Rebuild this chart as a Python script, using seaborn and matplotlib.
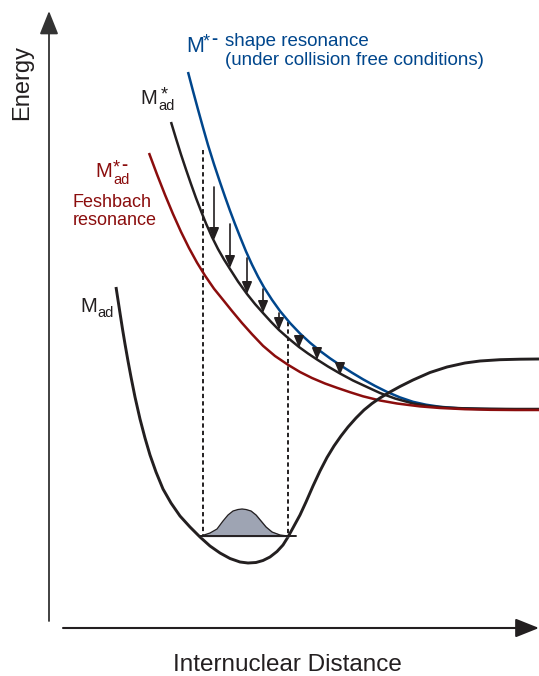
import matplotlib
matplotlib.use("Agg")
import matplotlib.pyplot as plt
import seaborn as sns
import pandas as pd

# -----------------------------
# Potential curves (x = distance, y = energy, image units)
# -----------------------------
shape_x = [188, 193, 198, 203, 208, 214, 220, 225, 230, 235, 240, 246, 252, 258, 264, 272, 280,
           290, 300, 310, 320, 330, 340, 352, 363, 375, 387, 400, 413, 426, 440, 460, 480, 510, 539]
shape_y = [72, 91, 109.5, 127.5, 145, 164.2, 182.2, 196.7, 210.7, 224, 236.7, 251.4, 264.6, 276.6,
           287.4, 299.8, 311, 323, 333.5, 342.7, 350.9, 358.3, 365, 372.7, 379.3, 385.9, 391.9,
           397.4, 401.8, 404.7, 406.8, 408.4, 409, 409.3, 409.3]

excited_x = [171, 176, 181, 186, 191, 196, 201, 206, 212, 218, 224, 230, 238, 247, 255, 263, 271,
             279, 289, 299, 308, 317, 328, 340, 353, 367, 380, 395, 413, 430, 447, 463, 490, 515, 539]
excited_y = [122, 138.5, 154.5, 169.5, 184, 198, 211, 223.5, 237, 249, 259.5, 269, 281.5, 294, 304,
             313, 321.8, 330, 338.8, 347, 353.5, 359.5, 366.5, 373.5, 380.5, 387, 393, 398.5, 403.5,
             406.2, 407.6, 408.3, 408.8, 409, 409]

feshbach_x = [149, 157, 165, 173, 181, 189, 197, 205, 214, 223, 232, 242, 252, 263, 275, 288, 300,
              312, 325, 337, 350, 363, 380, 397, 420, 440, 465, 490, 515, 539]
feshbach_y = [153, 174.4, 194.8, 214, 231.8, 248, 262.6, 275.6, 288.7, 299.8, 311, 323, 334.2,
              345.8, 356, 364.8, 372, 378, 383.5, 387.8, 392.2, 396.3, 400.5, 403.5, 406.4, 408,
              409.2, 409.8, 410, 410]

ground_x = [116, 118, 120, 122.5, 125, 128, 131, 135, 140, 145, 150, 156, 163, 171, 180, 190, 200,
            210, 220, 230, 240, 248, 256, 263, 270, 277, 283, 288, 294, 300, 306, 313, 320, 327,
            334, 341, 348, 356, 364, 372, 380, 390, 400, 413, 430, 447, 465, 480, 500, 520, 539]
ground_y = [287, 300, 313, 329, 344, 361, 377, 397, 419, 438, 455, 472, 489, 503, 516, 527, 537,
            546, 553, 558.5, 562, 563, 562.5, 560.5, 557, 551.5, 545, 537, 526, 515, 502, 486,
            471, 457.5, 446, 436, 427, 418, 410, 403.5, 398, 392, 386.5, 380, 372.5, 367, 363,
            361, 359.7, 359.2, 359]

# vibrational wavefunction on the v=0 level
wave_x = [201, 210, 217, 223, 228, 233, 238, 242, 246, 251, 256, 261, 266, 272, 280, 288]
wave_y = [536, 533, 529, 521, 515, 511, 509.5, 509, 509.5, 511, 515, 521, 527, 532, 535, 536]
level_x = [200, 296]
level_y = 536

# Franck-Condon window (dashed) and decay arrows
window_x = [203, 288]
window_top = [150, 322]
arrow_x = [214, 230, 247, 263, 279, 299, 317, 340]
arrow_top = [187, 224, 258, 289, 313, 336, 351, 366]
arrow_tip = [240, 268, 294, 313, 330, 348, 360, 375]

BLUE = "#00468c"
RED = "#8b0d0d"
INK = "#231f20"

sns.set_theme(style="white")
plt.rcParams["font.family"] = ["Liberation Sans", "DejaVu Sans"]

fig = plt.figure(figsize=(5.39, 6.76), dpi=100)
ax = fig.add_axes([0, 0, 1, 1])
ax.set_xlim(0, 539)
ax.set_ylim(676, 0)
ax.axis("off")

curves = [
    (shape_x, shape_y, BLUE, 1.8),
    (excited_x, excited_y, INK, 1.8),
    (feshbach_x, feshbach_y, RED, 1.8),
    (ground_x, ground_y, INK, 2.1),
]
for cx, cy, col, lw in curves:
    df = pd.DataFrame({"x": cx, "y": cy})
    sns.lineplot(data=df, x="x", y="y", sort=False, estimator=None, color=col,
                 linewidth=lw, ax=ax, solid_capstyle="butt", solid_joinstyle="round")

# dashed window
for wx, wt in zip(window_x, window_top):
    ax.plot([wx, wx], [wt, level_y], color=INK, lw=1.4, ls=(0, (2.2, 1.6)), zorder=1)

# wavefunction
ax.fill_between(wave_x, wave_y, level_y, color="#9ea4b3", zorder=2)
ax.plot(wave_x, wave_y, color=INK, lw=0.9, zorder=3)
ax.plot(level_x, [level_y, level_y], color=INK, lw=1.4, zorder=3)

# decay arrows
for x, top, tip in zip(arrow_x, arrow_top, arrow_tip):
    ax.annotate("", xy=(x, tip), xytext=(x, top),
                arrowprops=dict(arrowstyle="-|>,head_length=0.6,head_width=0.25",
                                color=INK, lw=1.2, mutation_scale=12,
                                shrinkA=0, shrinkB=0))

# axes arrows
ax.annotate("", xy=(49, 11), xytext=(49, 621),
            arrowprops=dict(arrowstyle="-|>,head_length=0.8,head_width=0.32",
                            color="#333333", lw=1.3, mutation_scale=18, shrinkA=0, shrinkB=0))
ax.annotate("", xy=(539, 628), xytext=(63, 628),
            arrowprops=dict(arrowstyle="-|>,head_length=0.8,head_width=0.32",
                            color=INK, lw=1.5, mutation_scale=18, shrinkA=0, shrinkB=0))

ax.text(22, 83, "Energy", rotation=90, ha="center", va="center", fontsize=17, color=INK)
ax.text(287, 671, "Internuclear Distance", ha="center", va="baseline", fontsize=17.5, color=INK)

# labels
ax.text(186, 52.5, "M", fontsize=15.5, color=BLUE)
ax.text(203, 46, "*", fontsize=13, color=BLUE)
ax.text(211, 44, "-", fontsize=13, color=BLUE, fontweight="bold")
ax.text(225, 46.5, "shape resonance", fontsize=13.5, color=BLUE)
ax.text(225, 65, "(under collision free conditions)", fontsize=13.5, color=BLUE)

ax.text(140, 104.3, "M", fontsize=14.5, color=INK)
ax.text(161, 99, "*", fontsize=13, color=INK)
ax.text(158.5, 110.5, "ad", fontsize=10.5, color=INK)

ax.text(95, 176.7, "M", fontsize=14.5, color=RED)
ax.text(113, 172, "*", fontsize=13, color=RED)
ax.text(121, 170, "-", fontsize=13, color=RED, fontweight="bold")
ax.text(113.5, 184.5, "ad", fontsize=10.5, color=RED)
ax.text(72.5, 206.7, "Feshbach", fontsize=13, color=RED)
ax.text(72.5, 225, "resonance", fontsize=13, color=RED)

ax.text(80.5, 311.7, "M", fontsize=14.5, color=INK)
ax.text(97.5, 317, "ad", fontsize=10.5, color=INK)

fig.savefig("out.png", dpi=100)
